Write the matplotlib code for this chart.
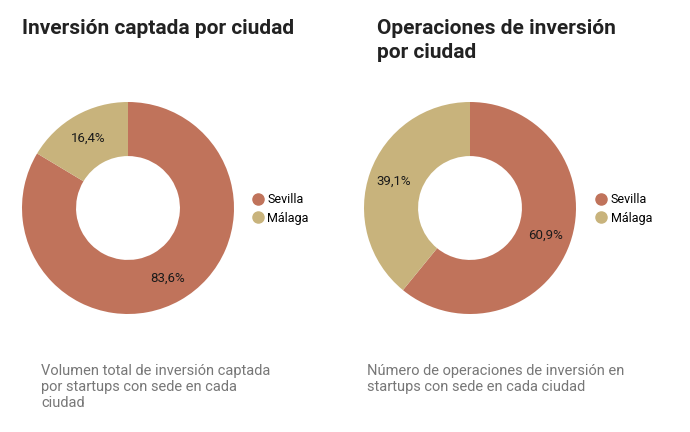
import matplotlib
matplotlib.use("Agg")
import matplotlib.pyplot as plt
from matplotlib.lines import Line2D

plt.rcParams['font.family'] = ['Roboto', 'DejaVu Sans']

cities = ["Sevilla", "Málaga"]
inversion = [83.6, 16.4]
operaciones = [60.9, 39.1]
colors = ["#C0735B", "#C8B37C"]

titles = ["Inversión captada por ciudad", "Operaciones de inversión\npor ciudad"]
subtitles = ["Volumen total de inversión captada\npor startups con sede en cada\nciudad",
             "Número de operaciones de inversión en\nstartups con sede en cada ciudad"]

W, H = 690, 432
fig = plt.figure(figsize=(W / 100, H / 100), dpi=100)

def fx(px):
    return px / W

def fy(py):
    return 1 - py / H

def fmt(v):
    return f"{v:.1f}".replace(".", ",") + "%"

panels = [
    dict(data=inversion, cx=128, cy=208, tx=22, sx=41, lx=250),
    dict(data=operaciones, cx=470, cy=208, tx=377, sx=367, lx=593),
]
R = 106
for i, p in enumerate(panels):
    ax = fig.add_axes([fx(p["cx"] - R), fy(p["cy"] + R), 2 * R / W, 2 * R / H])
    wedges, texts, autotexts = ax.pie(
        p["data"], colors=colors, startangle=90, counterclock=False,
        radius=1, wedgeprops=dict(width=0.51, linewidth=0),
        autopct=lambda v: fmt(v), pctdistance=0.76,
        textprops=dict(fontsize=9.5, color="#1a1a1a"))
    ax.set_xlim(-1, 1)
    ax.set_ylim(-1, 1)
    ax.set_aspect("equal")
    ax.axis("off")

    handles = [Line2D([0], [0], marker="o", linestyle="none", markersize=8,
                      markerfacecolor=c, markeredgecolor=c) for c in colors]
    fig.legend(handles, cities, loc="upper left",
               bbox_to_anchor=(fx(p["lx"]), fy(193)), frameon=False,
               fontsize=9, handletextpad=0.2, labelspacing=0.45,
               handlelength=1.2, borderaxespad=0, borderpad=0)

    fig.text(fx(p["tx"]), fy(19), titles[i], fontsize=15, fontweight="bold",
             color="#222222", va="top", ha="left", linespacing=1.32)
    fig.text(fx(p["sx"]), fy(364), subtitles[i], fontsize=10.5,
             color="#777777", va="top", ha="left", linespacing=1.2)

fig.savefig("out.png", dpi=100, facecolor="white")
